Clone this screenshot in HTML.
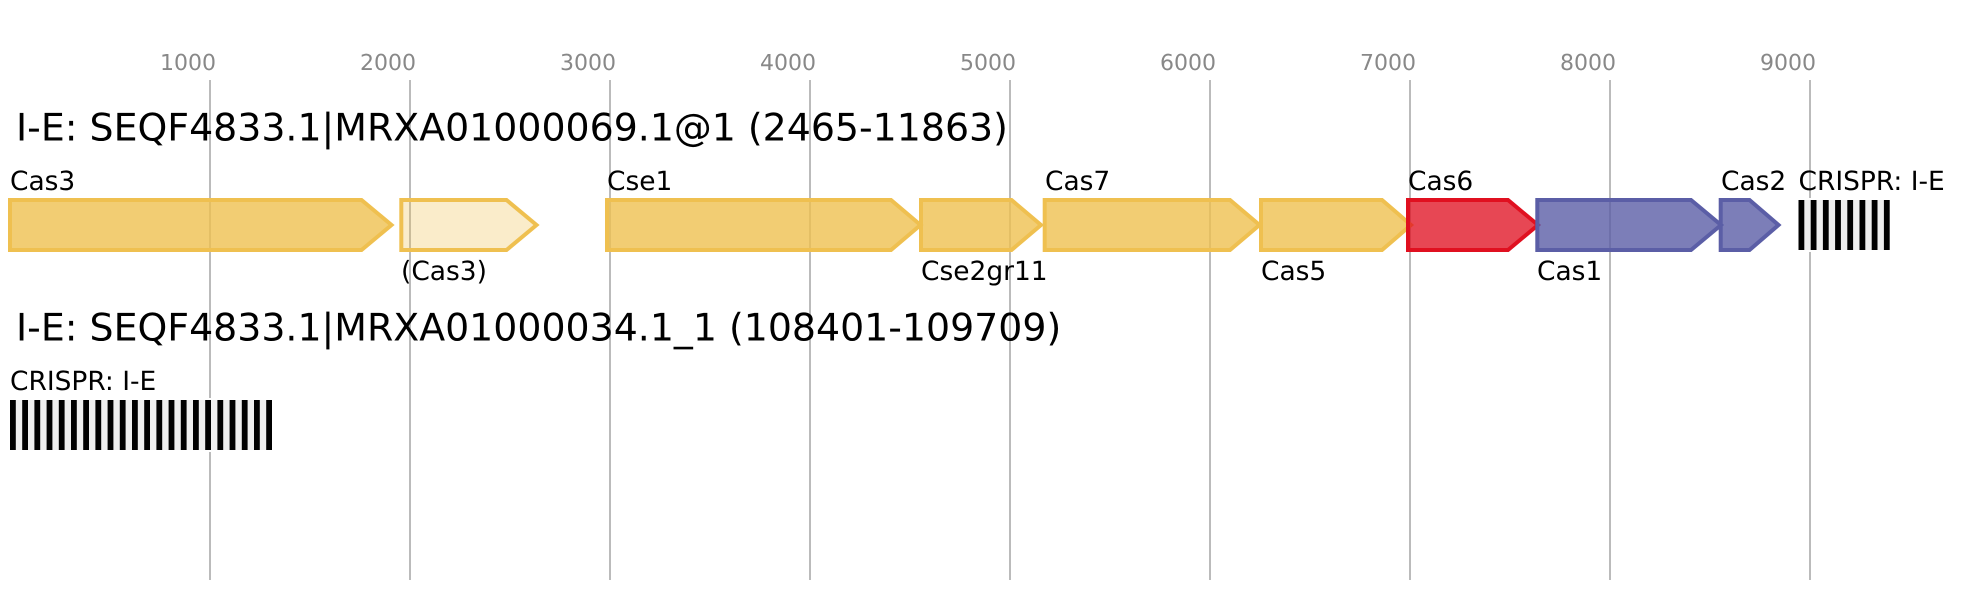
<!DOCTYPE html>
<html>
<head>
<meta charset="utf-8">
<style>
html,body{margin:0;padding:0;background:#fff;width:1980px;height:600px;overflow:hidden}
svg{display:block}
text{font-family:"DejaVu Sans","Liberation Sans",sans-serif;text-rendering:geometricPrecision}
.t{font-size:37.86px;fill:#000}
.l{font-size:26.45px;fill:#000}
.a{font-size:22px;fill:#888}
.y{fill:#efc050;fill-opacity:.8;stroke:#efc050;stroke-width:4}
.f{fill:#efc050;fill-opacity:.3;stroke:#efc050;stroke-width:4}
.r{fill:#e01020;fill-opacity:.77;stroke:#e01020;stroke-width:4}
.b{fill:#5b5ea6;fill-opacity:.8;stroke:#5b5ea6;stroke-width:4}
</style>
</head>
<body>
<svg xmlns="http://www.w3.org/2000/svg" width="1980" height="600" viewBox="0 0 1980 600">
<rect width="1980" height="600" fill="#fff"/>
<g stroke="#bbb" stroke-width="2">
<line x1="210" y1="80" x2="210" y2="580"/>
<line x1="410" y1="80" x2="410" y2="580"/>
<line x1="610" y1="80" x2="610" y2="580"/>
<line x1="810" y1="80" x2="810" y2="580"/>
<line x1="1010" y1="80" x2="1010" y2="580"/>
<line x1="1210" y1="80" x2="1210" y2="580"/>
<line x1="1410" y1="80" x2="1410" y2="580"/>
<line x1="1610" y1="80" x2="1610" y2="580"/>
<line x1="1810" y1="80" x2="1810" y2="580"/>
</g>
<g class="a">
<text class="a" x="160" y="70">1000</text>
<text class="a" x="360" y="70">2000</text>
<text class="a" x="560" y="70">3000</text>
<text class="a" x="760" y="70">4000</text>
<text class="a" x="960" y="70">5000</text>
<text class="a" x="1160" y="70">6000</text>
<text class="a" x="1360" y="70">7000</text>
<text class="a" x="1560" y="70">8000</text>
<text class="a" x="1760" y="70">9000</text>
</g>
<text class="t" x="16" y="140.7">I-E: SEQF4833.1|MRXA01000069.1@1 (2465-11863)</text>
<text class="t" x="16" y="340.7">I-E: SEQF4833.1|MRXA01000034.1_1 (108401-109709)</text>

<path class="y" d="M10,200H361.5L391.5,225L361.5,250H10Z"/>
<path class="f" d="M401.3,200H506.5L536.5,225L506.5,250H401.3Z"/>
<path class="y" d="M607,200H891L920.5,225L891,250H607Z"/>
<path class="y" d="M921,200H1011.5L1041,225L1011.5,250H921Z"/>
<path class="y" d="M1044.7,200H1230L1259.5,225L1230,250H1044.7Z"/>
<path class="y" d="M1261,200H1382L1411,225L1382,250H1261Z"/>
<path class="r" d="M1408,200H1508L1538,225L1508,250H1408Z"/>
<path class="b" d="M1537.3,200H1691L1721,225L1691,250H1537.3Z"/>
<path class="b" d="M1720.7,200H1749.5L1778.5,225L1749.5,250H1720.7Z"/>

<text class="l" x="10" y="190">Cas3</text>
<text class="l" x="401" y="280">(Cas3)</text>
<text class="l" x="607" y="190">Cse1</text>
<text class="l" x="921" y="280">Cse2gr11</text>
<text class="l" x="1045" y="190">Cas7</text>
<text class="l" x="1261" y="280">Cas5</text>
<text class="l" x="1408" y="190">Cas6</text>
<text class="l" x="1537" y="280">Cas1</text>
<text class="l" x="1721" y="190">Cas2</text>
<text class="l" x="1798.5" y="190">CRISPR: I-E</text>
<text class="l" x="10" y="390">CRISPR: I-E</text>

<g>
<rect x="1796.5" y="198" width="96" height="54" fill="#fff"/>
<rect x="1798.5" y="200" width="91.2" height="50" fill="#eee"/>
<g fill="#000">
<rect x="1798.5" y="200" width="5.8" height="50"/>
<rect x="1810.7" y="200" width="5.8" height="50"/>
<rect x="1822.9" y="200" width="5.8" height="50"/>
<rect x="1835.1" y="200" width="5.8" height="50"/>
<rect x="1847.3" y="200" width="5.8" height="50"/>
<rect x="1859.5" y="200" width="5.8" height="50"/>
<rect x="1871.7" y="200" width="5.8" height="50"/>
<rect x="1883.9" y="200" width="5.8" height="50"/>
</g>
</g>
<g>
<rect x="8" y="398" width="266" height="54" fill="#fff"/>
<rect x="10" y="400" width="262" height="50" fill="#eee"/>
<g fill="#000">
<rect x="10" y="400" width="5.8" height="50"/>
<rect x="22.2" y="400" width="5.8" height="50"/>
<rect x="34.4" y="400" width="5.8" height="50"/>
<rect x="46.6" y="400" width="5.8" height="50"/>
<rect x="58.8" y="400" width="5.8" height="50"/>
<rect x="71" y="400" width="5.8" height="50"/>
<rect x="83.2" y="400" width="5.8" height="50"/>
<rect x="95.4" y="400" width="5.8" height="50"/>
<rect x="107.6" y="400" width="5.8" height="50"/>
<rect x="119.8" y="400" width="5.8" height="50"/>
<rect x="132" y="400" width="5.8" height="50"/>
<rect x="144.2" y="400" width="5.8" height="50"/>
<rect x="156.4" y="400" width="5.8" height="50"/>
<rect x="168.6" y="400" width="5.8" height="50"/>
<rect x="180.8" y="400" width="5.8" height="50"/>
<rect x="193" y="400" width="5.8" height="50"/>
<rect x="205.2" y="400" width="5.8" height="50"/>
<rect x="217.4" y="400" width="5.8" height="50"/>
<rect x="229.6" y="400" width="5.8" height="50"/>
<rect x="241.8" y="400" width="5.8" height="50"/>
<rect x="254" y="400" width="5.8" height="50"/>
<rect x="266.2" y="400" width="5.8" height="50"/>
</g>
</g>
</svg>
</body>
</html>
